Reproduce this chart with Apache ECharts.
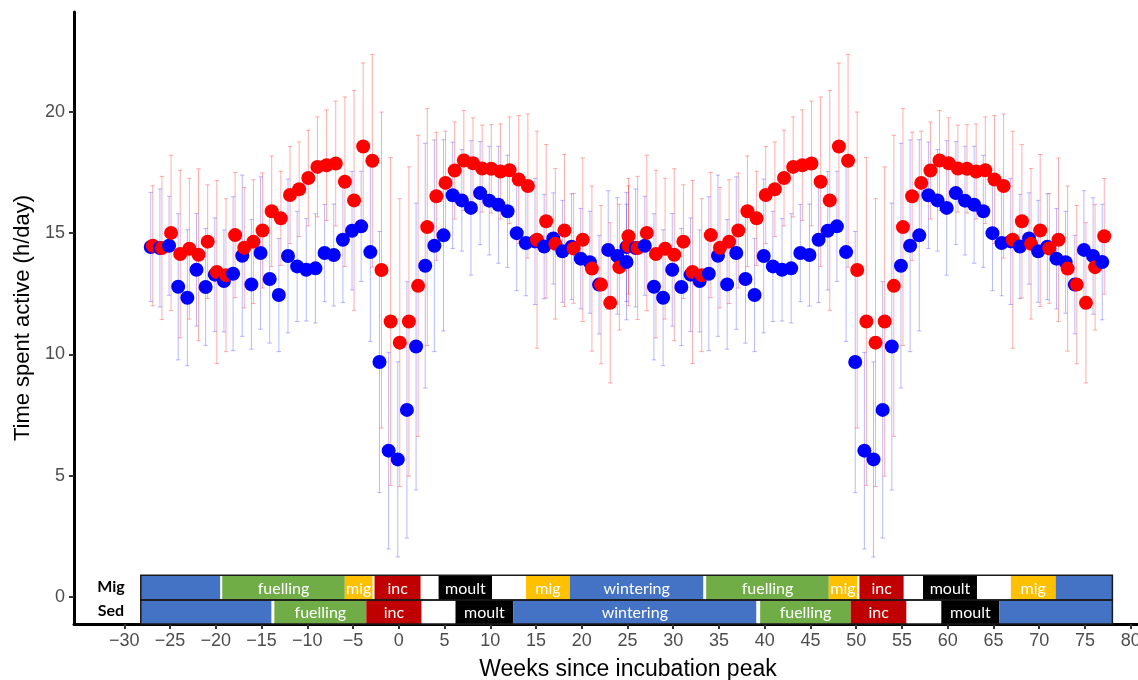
<!DOCTYPE html>
<html><head><meta charset="utf-8">
<script src="https://cdn.jsdelivr.net/npm/echarts@6/dist/echarts.min.js"></script>
<style>html,body{margin:0;padding:0;background:#fff}#c{width:1138px;height:680px}</style>
</head><body><div id="c"></div>
<script>
// ---------- DATA ----------
const weeksCycle1 = [-27,-26,-25,-24,-23,-22,-21,-20,-19,-18,-17,-16,-15,-14,-13,-12,-11,-10,-9,-8,-7,-6,-5,-4,-3,-2,-1,0,1,2,3,4,5,6,7,8,9,10,11,12,13,14,15,16,17,18,19,20,21,22,23,24,25];
const weeksCycle2 = [25,26,27,28,29,30,31,32,33,34,35,36,37,38,39,40,41,42,43,44,45,46,47,48,49,50,51,52,53,54,55,56,57,58,59,60,61,62,63,64,65,66,67,68,69,70,71,72,73,74,75,76,77];

// blue group (Sed) – mean and error half-width, weeks -27..25
const blueMean = [14.42,14.38,14.47,12.78,12.33,13.48,12.77,13.28,13.02,13.32,
                  14.06,12.88,14.17,13.10,12.44,14.05,13.62,13.48,13.54,14.17,
                  14.09,14.72,15.09,15.27,14.21,9.68,6.03,5.67,7.71,10.32,
                  13.65,14.47,14.90,16.55,16.34,16.03,16.64,16.33,16.16,15.89,
                  14.99,14.58,14.65,14.44,14.77,14.24,14.43,13.94,13.79,12.87,
                  14.30,14.05,13.80];
const blueSD   = [2.25,2.43,2.04,3.01,2.80,2.32,2.41,2.34,2.10,3.17,
                  3.32,2.67,3.14,2.64,2.33,3.17,2.27,2.11,2.25,2.00,
                  2.10,2.59,2.44,2.27,3.68,5.38,4.05,4.02,5.28,5.91,
                  5.04,4.36,3.94,2.19,2.09,2.77,2.12,2.24,2.41,2.31,
                  2.37,2.17,2.60,2.15,1.88,2.10,2.18,2.07,2.10,2.03,
                  2.44,2.40,2.38];
// red group (Mig)
const redMean  = [14.47,14.38,15.00,14.13,14.35,14.10,14.64,13.39,13.26,14.91,
                  14.39,14.64,15.10,15.89,15.60,16.56,16.80,17.26,17.72,17.79,
                  17.86,17.11,16.34,18.56,17.97,13.47,11.35,10.48,11.35,12.82,
                  15.24,16.51,17.06,17.57,17.98,17.87,17.65,17.64,17.53,17.58,
                  17.20,16.93,14.72,15.48,14.55,15.10,14.36,14.72,13.53,12.87,
                  12.12,13.59,14.86];
const redSD    = [2.47,2.95,3.20,3.45,2.90,3.54,2.34,3.77,3.15,2.58,
                  2.48,2.55,2.37,2.28,1.94,2.00,1.95,1.97,2.06,2.28,
                  2.57,3.49,4.53,3.44,4.38,6.51,6.75,5.93,6.37,6.20,
                  4.88,2.64,2.13,2.00,2.06,1.87,1.79,1.82,1.96,2.20,
                  2.64,2.97,4.47,3.16,3.10,3.13,2.26,3.37,3.40,3.26,
                  3.30,2.59,2.38];

const xTicks = [-30,-25,-20,-15,-10,-5,0,5,10,15,20,25,30,35,40,45,50,55,60,65,70,75,80];
const yTicks = [0,5,10,15,20];

// annual-cycle phases: [startWeek, endWeek, phase, label]
const migPhases = [
  [-28.2,-19.5,'winter',''],[-19.5,-19.3,'gap',''],[-19.3,-5.9,'fuel','fuelling'],
  [-5.9,-2.85,'mig','mig'],[-2.85,-2.65,'gap',''],[-2.65,2.4,'inc','inc'],
  [2.4,4.35,'gap',''],[4.35,10.2,'moult','moult'],[10.2,13.9,'gap',''],
  [13.9,18.7,'mig','mig'],[18.7,33.3,'winter','wintering'],[33.3,33.6,'gap',''],
  [33.6,47.0,'fuel','fuelling'],[47.0,50.1,'mig','mig'],[50.1,50.35,'gap',''],
  [50.35,55.2,'inc','inc'],[55.2,57.3,'gap',''],[57.3,63.2,'moult','moult'],
  [63.2,66.9,'gap',''],[66.9,71.8,'mig','mig'],[71.8,78.0,'winter','']
];
const sedPhases = [
  [-28.2,-13.9,'winter',''],[-13.9,-13.6,'gap',''],[-13.6,-3.55,'fuel','fuelling'],
  [-3.55,2.5,'inc','inc'],[2.5,6.2,'gap',''],[6.2,12.5,'moult','moult'],
  [12.5,39.1,'winter','wintering'],[39.1,39.5,'gap',''],[39.5,49.4,'fuel','fuelling'],
  [49.4,55.5,'inc','inc'],[55.5,59.3,'gap',''],[59.3,65.65,'moult','moult'],
  [65.65,78.0,'winter','']
];
const rowNames = ['Mig','Sed'];

// ---------- BUILD ----------
const phaseColor = {winter:'#4472C4', fuel:'#70AD47', mig:'#FFC000', inc:'#C00000', moult:'#000000', gap:'#FFFFFF'};
const ROWS = [[0.9,-0.12],[-0.12,-1.11]];
const DODGE = 0.11;
const errData = [], ptData = [];
[weeksCycle1, weeksCycle2].forEach(weeks => {
  weeks.forEach((w, i) => {
    errData.push([w - DODGE, blueMean[i], blueSD[i], 0]);
    errData.push([w + DODGE, redMean[i], redSD[i], 1]);
  });
});
[weeksCycle1, weeksCycle2].forEach(weeks => {
  weeks.forEach((w, i) => {
    ptData.push({value:[w - DODGE, blueMean[i]], itemStyle:{color:'#0000FF', opacity:1}});
    ptData.push({value:[w + DODGE, redMean[i]], itemStyle:{color:'#FF0000', opacity:1}});
  });
});
const phaseItems = [];
[migPhases, sedPhases].forEach((list, r) => list.forEach(p => phaseItems.push({row:r, s:p[0], e:p[1], c:phaseColor[p[2]], t:p[3]})));
const outlineItems = [0,1].map(r => ({row:r, s:-28.2, e:78.0, outline:true}));
const allPhase = phaseItems.concat(outlineItems);

const FONT = 'Liberation Sans, Arial, sans-serif';
const chart = echarts.init(document.getElementById('c'), null, {renderer:'canvas'});
chart.setOption({
  animation:false,
  grid:{left:74, right:0, top:12, bottom:56, containLabel:false, outerBoundsMode:'none'},
  xAxis:{
    type:'value', min:-35.5, max:80.8,
    axisLine:{onZero:false, lineStyle:{color:'#000', width:3}},
    axisTick:{customValues:xTicks, length:5, lineStyle:{color:'#333', width:2}},
    axisLabel:{customValues:xTicks, formatter:v => String(v).replace('-', '\u2212'), color:'#4D4D4D', fontSize:18, fontFamily:FONT, margin:8},
    splitLine:{show:false},
    name:'Weeks since incubation peak', nameLocation:'middle', nameGap:34,
    nameTextStyle:{fontSize:23, color:'#000', fontFamily:FONT, padding:[0,0,0,44]}
  },
  yAxis:{
    type:'value', min:-1.11, max:24.1,
    axisLine:{onZero:false, lineStyle:{color:'#000', width:3}},
    axisTick:{customValues:yTicks, length:5, lineStyle:{color:'#333', width:2}},
    axisLabel:{customValues:yTicks, color:'#4D4D4D', fontSize:18, fontFamily:FONT, margin:9},
    splitLine:{show:false},
    name:'Time spent active (h/day)', nameLocation:'middle', nameGap:40, nameRotate:90,
    nameTextStyle:{fontSize:22, color:'#000', fontFamily:FONT}
  },
  graphic:[
    {type:'text', x:111, y:587, style:{text:rowNames[0], font:'bold 16px Lato', fill:'#000', align:'center', verticalAlign:'middle'}},
    {type:'text', x:111, y:611, style:{text:rowNames[1], font:'bold 16px Lato', fill:'#000', align:'center', verticalAlign:'middle'}}
  ],
  series:[
    {
      type:'custom', name:'phases', z:1,
      data: allPhase.map(p => [p.s, p.e]),
      encode:{x:[0,1]},
      renderItem:(params, api) => {
        const p = allPhase[params.dataIndex];
        const rr = ROWS[p.row];
        const a = api.coord([p.s, rr[0]]), b = api.coord([p.e, rr[1]]);
        if (p.outline) {
          return {type:'rect', shape:{x:a[0], y:a[1], width:b[0]-a[0], height:b[1]-a[1]},
                  style:{fill:'none', stroke:'#1a1a1a', lineWidth:1.5}};
        }
        const children = [{type:'rect', shape:{x:a[0], y:a[1], width:b[0]-a[0], height:b[1]-a[1]}, style:{fill:p.c}}];
        if (p.t) children.push({type:'text', style:{text:p.t, x:(a[0]+b[0])/2, y:(a[1]+b[1])/2+1, fill:'#fff', align:'center', verticalAlign:'middle', font:'16px Lato'}});
        return {type:'group', children};
      }
    },
    {
      type:'custom', name:'errorbars', z:2,
      data: errData, encode:{x:0, y:1},
      renderItem:(params, api) => {
        const x = api.value(0), m = api.value(1), s = api.value(2), g = api.value(3);
        const t = api.coord([x, m + s]), bt = api.coord([x, m - s]);
        const col = g ? 'rgba(255,0,0,0.32)' : 'rgba(0,0,255,0.28)';
        const hw = 2.2;
        return {type:'group', children:[
          {type:'line', shape:{x1:t[0], y1:t[1], x2:bt[0], y2:bt[1]}, style:{stroke:col, lineWidth:1}},
          {type:'line', shape:{x1:t[0]-hw, y1:t[1], x2:t[0]+hw, y2:t[1]}, style:{stroke:col, lineWidth:1}},
          {type:'line', shape:{x1:bt[0]-hw, y1:bt[1], x2:bt[0]+hw, y2:bt[1]}, style:{stroke:col, lineWidth:1}}
        ]};
      }
    },
    {
      type:'scatter', name:'points', z:3, symbol:'circle', symbolSize:14,
      itemStyle:{opacity:1},
      data: ptData
    }
  ]
});
</script></body></html>
